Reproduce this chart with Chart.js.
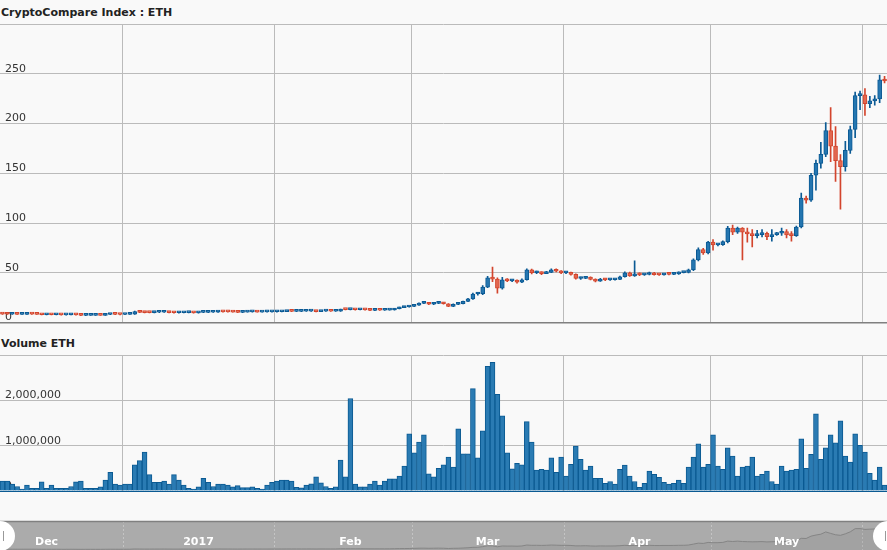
<!DOCTYPE html>
<html>
<head>
<meta charset="utf-8">
<script src="https://cdn.jsdelivr.net/npm/chart.js@4/dist/chart.umd.min.js"></script>
<style>
  html, body { margin: 0; padding: 0; background: #f9f9f9; }
  body { width: 887px; height: 550px; position: relative; overflow: hidden; font-family: "DejaVu Sans", Verdana, sans-serif; }
  .title { position: absolute; left: 1px; font-weight: bold; font-size: 11px; line-height: 13px; color: #222; }
  canvas { position: absolute; left: 0; }
</style>
</head>
<body>
<div class="title" style="top:6px">CryptoCompare Index : ETH</div>
<canvas id="price" width="887" height="330" style="top:0"></canvas>
<div class="title" style="top:337px">Volume ETH</div>
<canvas id="volume" width="887" height="170" style="top:330px"></canvas>
<canvas id="nav" width="887" height="50" style="top:500px"></canvas>
<script>
// daily ETH candles, 7 Dec 2016 .. 5 Jun 2017 (index 0 = 7 Dec)
const monthStarts = [-6, 25, 56, 84, 115, 145, 176];
const monthLabels = ['Dec', '2017', 'Feb', 'Mar', 'Apr', 'May', 'Jun'];

const open = [
  8.5, 8.4, 8.3, 8.5, 8.2, 8.2, 8.5, 8.4, 8.2, 7.8, 7.9, 7.8, 7.9, 7.6, 7.6, 7.9, 7.6, 7.1, 7.2, 7.2, 7.3, 7.2, 8.0, 8.2, 8.1,
  8.0, 8.2, 8.4, 10.9, 10.2, 10.0, 9.9, 10.3, 10.3, 10.5, 9.9, 9.8, 9.8, 9.9, 9.9, 9.6, 10.1, 10.2, 10.3, 10.4, 10.9, 10.7, 10.6, 10.5, 10.1, 10.5, 10.6, 10.6, 10.5, 10.6, 10.6,
  10.8, 10.8, 10.9, 11.3, 11.2, 11.2, 11.3, 11.4, 11.4, 11.0, 11.4, 11.4, 11.3, 11.4, 13.0, 12.9, 12.9, 12.8, 12.9, 12.7, 12.2, 12.4, 12.3, 12.5, 12.6, 13.8, 15.0, 15.6,
  16.2, 17.5, 19.3, 19.6, 18.3, 19.2, 19.8, 18.8, 16.2, 18.2, 18.8, 21.2, 23.8, 28.6, 28.9, 35.6, 44.8, 43.6, 34.5, 43.0, 41.8, 42.2, 40.6, 43.0, 53.0, 50.0, 50.4, 49.2, 50.4, 53.0, 51.5,
  49.8, 50.0, 48.4, 44.2, 44.4, 45.6, 43.2, 41.6, 43.6, 42.8, 43.0, 43.4, 46.0, 50.0, 46.8, 49.0, 47.8, 48.2, 50.0, 48.0, 47.8, 48.6, 48.4, 48.8, 50.2, 50.3, 53.0, 63.0, 73.3, 70.0,
  80.7, 78.0, 78.3, 81.3, 95.0, 90.7, 95.0, 90.7, 89.0, 87.3, 88.3, 89.7, 86.3, 88.3, 89.7, 91.3, 88.0, 87.3, 96.0, 125.0, 123.0, 148.0, 160.0, 169.0, 193.0, 177.3, 162.7, 156.7, 173.0, 194.0, 228.0,
  228.7, 220.0, 222.7, 224.7, 244.0
];
const high = [
  8.7, 8.6, 8.7, 8.6, 8.4, 8.7, 8.7, 8.5, 8.3, 8.1, 8.1, 8.1, 8.0, 7.8, 8.1, 8.0, 7.7, 7.4, 7.4, 7.5, 7.5, 8.2, 8.5, 8.4, 8.3,
  8.4, 8.6, 11.4, 11.3, 10.6, 10.3, 10.6, 10.6, 10.8, 10.6, 10.1, 10.0, 10.1, 10.2, 10.1, 10.3, 10.4, 10.5, 10.6, 11.2, 11.1, 10.9, 10.8, 10.7, 10.7, 10.8, 10.9, 10.8, 10.8, 10.8, 11.0,
  11.1, 11.1, 11.6, 11.6, 11.4, 11.5, 11.7, 11.7, 11.5, 11.6, 11.7, 11.6, 11.7, 13.6, 13.3, 13.2, 13.1, 13.1, 13.1, 12.9, 12.6, 12.6, 12.7, 12.8, 14.2, 15.4, 16.2, 16.6,
  18.0, 19.8, 20.2, 19.9, 19.6, 20.4, 20.2, 19.0, 18.7, 19.4, 21.6, 24.3, 29.5, 30.4, 37.0, 46.5, 55.7, 45.0, 45.5, 44.2, 43.2, 43.0, 44.0, 54.0, 53.8, 51.6, 51.0, 51.4, 54.0, 54.0, 52.2,
  51.2, 50.6, 49.0, 45.6, 46.5, 46.0, 43.8, 44.4, 44.2, 43.8, 44.0, 46.6, 50.8, 50.6, 62.0, 49.8, 49.0, 50.6, 50.4, 49.0, 49.2, 49.2, 49.3, 50.8, 51.0, 53.6, 64.0, 75.0, 74.5, 81.5,
  83.3, 79.0, 82.0, 96.7, 98.0, 96.0, 95.5, 95.0, 93.3, 92.7, 93.3, 91.0, 93.3, 90.5, 95.0, 93.3, 91.3, 97.0, 130.0, 127.0, 150.0, 163.3, 181.0, 201.0, 216.0, 197.0, 168.7, 182.0, 197.3, 231.7, 232.7,
  235.0, 227.3, 228.0, 248.7, 247.3
];
const low = [
  8.2, 8.1, 8.2, 8.0, 8.0, 8.1, 8.2, 8.0, 7.6, 7.6, 7.6, 7.6, 7.4, 7.4, 7.5, 7.4, 6.9, 6.9, 7.0, 7.0, 7.0, 7.1, 7.8, 7.9, 7.7,
  7.8, 8.1, 8.2, 9.8, 9.6, 9.6, 9.7, 10.0, 10.1, 9.6, 9.5, 9.5, 9.6, 9.6, 9.3, 9.5, 9.9, 10.0, 10.1, 10.2, 10.4, 10.3, 10.3, 9.8, 10.0, 10.3, 10.4, 10.3, 10.3, 10.4, 10.5,
  10.5, 10.6, 10.8, 11.0, 11.0, 11.0, 11.1, 11.1, 10.7, 10.8, 11.1, 11.1, 11.1, 11.2, 12.6, 12.6, 12.5, 12.6, 12.4, 12.0, 12.0, 12.1, 12.1, 12.3, 12.4, 13.6, 14.8, 15.3,
  15.9, 17.2, 18.9, 17.9, 18.0, 19.0, 18.5, 15.8, 15.9, 18.0, 18.6, 21.0, 23.2, 27.5, 28.0, 35.0, 41.0, 29.5, 33.5, 41.0, 41.0, 39.5, 40.0, 42.5, 48.8, 49.2, 48.0, 49.0, 50.0, 50.8, 49.0,
  49.0, 47.6, 43.5, 43.2, 44.0, 42.8, 40.8, 41.2, 42.0, 42.2, 42.6, 43.0, 45.6, 46.2, 46.2, 47.0, 47.4, 47.8, 47.6, 47.4, 47.5, 47.9, 48.0, 48.2, 49.8, 49.9, 52.0, 62.0, 68.3, 69.0,
  72.7, 77.0, 77.5, 80.0, 88.3, 89.5, 63.0, 80.7, 76.0, 85.0, 86.0, 83.3, 81.7, 87.5, 87.5, 85.0, 81.7, 86.5, 95.0, 120.0, 121.7, 133.0, 155.0, 166.7, 161.7, 141.7, 114.0, 152.0, 170.0, 185.7, 214.0,
  208.0, 216.0, 218.3, 221.0, 240.7
];
const close = [
  8.4, 8.3, 8.5, 8.2, 8.2, 8.5, 8.4, 8.2, 7.8, 7.9, 7.8, 7.9, 7.6, 7.6, 7.9, 7.6, 7.1, 7.2, 7.2, 7.3, 7.2, 8.0, 8.2, 8.1, 8.0,
  8.2, 8.4, 10.9, 10.2, 10.0, 9.9, 10.3, 10.3, 10.5, 9.9, 9.8, 9.8, 9.9, 9.9, 9.6, 10.1, 10.2, 10.3, 10.4, 10.9, 10.7, 10.6, 10.5, 10.1, 10.5, 10.6, 10.6, 10.5, 10.6, 10.6, 10.8,
  10.8, 10.9, 11.3, 11.2, 11.2, 11.3, 11.4, 11.4, 11.0, 11.4, 11.4, 11.3, 11.4, 13.0, 12.9, 12.9, 12.8, 12.9, 12.7, 12.2, 12.4, 12.3, 12.5, 12.6, 13.8, 15.0, 15.6, 16.2,
  17.5, 19.3, 19.6, 18.3, 19.2, 19.8, 18.8, 16.2, 18.2, 18.8, 21.2, 23.8, 28.6, 28.9, 35.6, 44.8, 43.6, 34.5, 43.0, 41.8, 42.2, 40.6, 43.0, 53.0, 50.0, 50.4, 49.2, 50.4, 53.0, 51.5, 49.8,
  50.0, 48.4, 44.2, 44.4, 45.6, 43.2, 41.6, 43.6, 42.8, 43.0, 43.4, 46.0, 50.0, 46.8, 49.0, 47.8, 48.2, 50.0, 48.0, 47.8, 48.6, 48.4, 48.8, 50.2, 50.3, 53.0, 63.0, 73.3, 70.0, 80.7,
  78.0, 78.3, 81.3, 95.0, 90.7, 95.0, 90.7, 89.0, 87.3, 88.3, 89.7, 86.3, 88.3, 89.7, 91.3, 88.0, 87.3, 96.0, 125.0, 123.0, 148.0, 160.0, 169.0, 193.0, 177.3, 162.7, 156.7, 173.0, 194.0, 228.0, 228.7,
  220.0, 222.7, 224.7, 244.0, 242.7
];
const volume = [
  220000, 220000, 150000, 100000, 45000, 130000, 60000, 60000, 200000, 60000, 130000, 60000, 60000, 60000, 100000, 200000, 220000, 60000, 60000, 60000, 90000, 240000, 410000, 155000, 130000,
  155000, 155000, 580000, 670000, 860000, 360000, 190000, 190000, 220000, 155000, 360000, 240000, 130000, 60000, 45000, 90000, 280000, 190000, 100000, 150000, 150000, 130000, 90000, 120000, 75000, 75000, 90000, 60000, 40000, 130000, 190000,
  220000, 240000, 240000, 220000, 80000, 70000, 130000, 160000, 310000, 180000, 100000, 60000, 90000, 680000, 310000, 2040000, 150000, 90000, 90000, 150000, 220000, 130000, 220000, 270000, 270000, 330000, 550000, 1260000,
  840000, 1080000, 1240000, 380000, 310000, 500000, 580000, 750000, 530000, 1370000, 820000, 820000, 2260000, 730000, 1330000, 2750000, 2840000, 2130000, 1660000, 840000, 490000, 610000, 580000, 1530000, 1080000, 460000, 480000, 460000, 730000, 410000, 750000,
  330000, 590000, 990000, 700000, 460000, 550000, 280000, 280000, 170000, 210000, 150000, 480000, 570000, 330000, 210000, 80000, 170000, 440000, 370000, 300000, 190000, 150000, 170000, 240000, 170000, 530000, 750000, 1040000, 530000, 590000,
  1240000, 550000, 480000, 950000, 770000, 330000, 530000, 550000, 750000, 330000, 370000, 440000, 210000, 150000, 550000, 440000, 460000, 480000, 1150000, 500000, 810000, 1700000, 700000, 950000, 1240000, 1060000, 1550000, 770000, 640000, 1260000, 1010000,
  860000, 390000, 240000, 530000, 130000
];

const xs = close.map((c, i) => i + 0.5);
const isUp = close.map((c, i) => c >= open[i]);
const bodyFill = isUp.map(u => u ? '#2576b0' : '#e2674f');
const bodyLine = isUp.map(u => u ? '#0b5a94' : '#d3452d');

const gridColor = '#bbbbbb';
const tickFont = { family: 'DejaVu Sans', size: 11 };

const monthGrid = scale => {
  scale.ticks = monthStarts.filter(v => v >= scale.min && v <= scale.max).map(v => ({ value: v }));
};
// labels sit inside the plot, so the value axis takes no room
const flatAxis = scale => {
  scale.width = 0;
  scale.paddingTop = 0;
  scale.paddingBottom = 0;
};

// price panel
new Chart(document.getElementById('price'), {
  type: 'bar',
  data: {
    datasets: [
      {
        data: xs.map((x, i) => ({ x: x, y: [low[i], high[i]] })),
        backgroundColor: bodyLine,
        barThickness: 1,
        grouped: false,
        order: 2
      },
      {
        data: xs.map((x, i) => ({ x: x, y: [Math.min(open[i], close[i]), Math.max(open[i], close[i])] })),
        backgroundColor: bodyFill,
        borderColor: bodyLine,
        borderWidth: 1,
        borderSkipped: false,
        barThickness: 4,
        minBarLength: 2,
        grouped: false,
        order: 1
      }
    ]
  },
  options: {
    responsive: false,
    animation: false,
    layout: { padding: { top: 24, bottom: 7.5, left: 0, right: 0 } },
    plugins: { legend: { display: false }, tooltip: { enabled: false } },
    scales: {
      x: {
        type: 'linear', min: 0, max: 181, offset: false,
        afterBuildTicks: monthGrid,
        ticks: { display: false },
        grid: { color: gridColor, drawTicks: false, offset: false },
        border: { display: true, color: '#808080', width: 1.5 }
      },
      y: {
        min: 0, max: 300,
        afterFit: flatAxis,
        ticks: {
          stepSize: 50, mirror: true, padding: 5, labelOffset: -5, color: '#333', font: tickFont,
          callback: v => v === 300 ? '' : v
        },
        grid: { color: gridColor, drawTicks: false },
        border: { display: false }
      }
    }
  }
});

// volume panel
new Chart(document.getElementById('volume'), {
  type: 'bar',
  data: {
    datasets: [{
      data: xs.map((x, i) => ({ x: x, y: volume[i] })),
      backgroundColor: '#2a7bb3',
      borderColor: '#0b5a92',
      borderWidth: 1,
      barPercentage: 1,
      categoryPercentage: 1
    }]
  },
  options: {
    responsive: false,
    animation: false,
    layout: { padding: { top: 25, bottom: 9, left: 0, right: 0 } },
    plugins: { legend: { display: false }, tooltip: { enabled: false } },
    scales: {
      x: {
        type: 'linear', min: 0, max: 181, offset: false,
        afterBuildTicks: monthGrid,
        ticks: { display: false },
        grid: { color: gridColor, drawTicks: false, offset: false },
        border: { display: true, color: '#0b5a92', width: 1 }
      },
      y: {
        min: 0, max: 3000000,
        afterFit: flatAxis,
        ticks: {
          stepSize: 1000000, mirror: true, padding: 5, labelOffset: -5, color: '#333', font: tickFont,
          callback: v => v === 3000000 ? '' : v.toLocaleString('en-US')
        },
        grid: { color: gridColor, drawTicks: false },
        border: { display: false }
      }
    }
  }
});

// navigator strip
const navDeco = {
  id: 'navDeco',
  beforeDraw(chart) {
    const ctx = chart.ctx;
    const a = chart.chartArea;
    const xs = chart.scales.x;
    ctx.save();
    ctx.fillStyle = '#ababab';
    ctx.fillRect(0, a.top, chart.width, chart.height - a.top);
    ctx.strokeStyle = '#c4c4c4';
    ctx.setLineDash([2, 2]);
    ctx.lineWidth = 1;
    monthStarts.forEach(m => {
      const px = Math.round(xs.getPixelForValue(m)) + 0.5;
      if (px < 0 || px > chart.width) return;
      ctx.beginPath();
      ctx.moveTo(px, a.top);
      ctx.lineTo(px, chart.height);
      ctx.stroke();
    });
    ctx.setLineDash([]);
    ctx.strokeStyle = '#808080';
    ctx.lineWidth = 1.5;
    ctx.beginPath();
    ctx.moveTo(0, a.top + 0.5);
    ctx.lineTo(chart.width, a.top + 0.5);
    ctx.stroke();
    ctx.restore();
  },
  afterDraw(chart) {
    const ctx = chart.ctx;
    const a = chart.chartArea;
    const xs = chart.scales.x;
    ctx.save();
    ctx.fillStyle = '#ffffff';
    ctx.font = 'bold 11px "DejaVu Sans"';
    ctx.textAlign = 'center';
    ctx.textBaseline = 'middle';
    monthStarts.forEach((m, i) => {
      const px = xs.getPixelForValue(m + 15.5);
      if (px > chart.width) return;
      ctx.fillText(monthLabels[i], px, 42);
    });
    // handles
    [[0, 3], [chart.width + 1, chart.width - 2]].forEach(([cx, mx]) => {
      ctx.fillStyle = '#ffffff';
      ctx.beginPath();
      ctx.arc(cx, a.top + 15, 15, 0, Math.PI * 2);
      ctx.fill();
      ctx.strokeStyle = '#999';
      ctx.lineWidth = 1;
      ctx.beginPath();
      ctx.moveTo(mx + 0.5, a.top + 10);
      ctx.lineTo(mx + 0.5, a.top + 20);
      ctx.stroke();
    });
    ctx.restore();
  }
};

new Chart(document.getElementById('nav'), {
  type: 'line',
  data: {
    datasets: [{
      data: xs.map((x, i) => ({ x: x, y: close[i] })),
      borderColor: '#858585',
      borderWidth: 1,
      backgroundColor: 'rgba(120,120,120,0.18)',
      fill: 'origin',
      pointRadius: 0,
      tension: 0
    }]
  },
  options: {
    responsive: false,
    animation: false,
    layout: { padding: { top: 21, bottom: 0, left: 0, right: 0 } },
    plugins: { legend: { display: false }, tooltip: { enabled: false } },
    scales: {
      x: { type: 'linear', min: 0, max: 181, display: false },
      y: { min: 0, max: 310, display: false }
    }
  }
  ,
  plugins: [navDeco]
});
</script>
</body>
</html>
